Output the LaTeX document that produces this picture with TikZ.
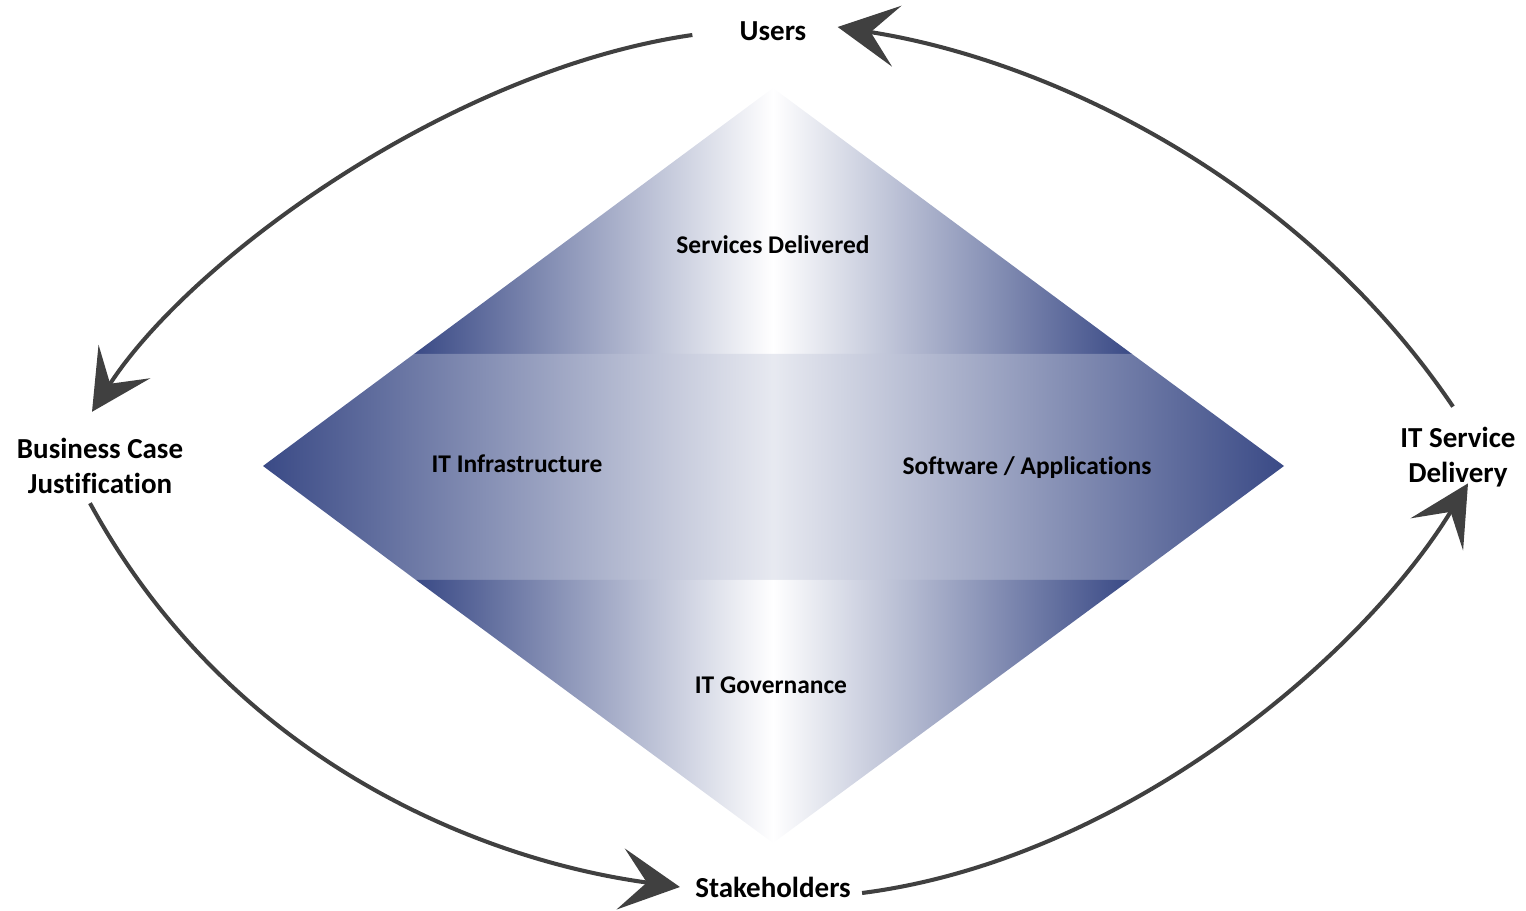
\documentclass[tikz,border=0pt]{standalone}
\usepackage{fontspec}
\setmainfont{Carlito}[Ligatures=NoCommon]
\usetikzlibrary{arrows.meta,calc}
\definecolor{dblue}{RGB}{58,74,134}
\definecolor{arrowgray}{RGB}{64,64,64}
\begin{document}
\begin{tikzpicture}[x=0.02cm,y=-0.02cm,
  outer/.style={font=\bfseries\fontsize{16.5}{20}\selectfont, inner sep=0pt, align=center},
  inner/.style={font=\bfseries\fontsize{14.5}{17}\selectfont, inner sep=0pt},
  flow/.style={draw=arrowgray, line width=2.3pt, -{Stealth[length=34pt,width=35pt,inset=15pt]}},
  tri/.style={left color=dblue, right color=dblue, middle color=white},
  band/.style={left color=dblue, right color=dblue, middle color=dblue!12}]
\useasboundingbox (0,0) rectangle (1526,911);
\path[tri] (773,88) -- (1132,354) -- (414,354) -- cycle;
\path[band] (414,354) -- (1132,354) -- (1284,466) -- (1130,580) -- (416,580) -- (263,466) -- cycle;
\path[tri] (416,580) -- (1130,580) -- (773,843) -- cycle;
\node[inner] (sd) at (773,245) {Services Delivered};
\node[inner] (iti) at (517,464) {IT Infrastructure};
\node[inner] (sa) at (1027,468) {Software / Applications};
\node[inner] (itg) at (771,685) {IT Governance};
\node[outer] (users) at (773,31) {Users};
\node[outer] (bcj) at (100,466) {Business Case\\Justification};
\node[outer] (stk) at (773,887) {Stakeholders};
\node[outer] (itsd) at (1458,457) {IT Service\\Delivery};
\draw[flow] ($(users.west)+(-47,4)$) .. controls (450,70) and (190,260) .. ($(bcj.north)+(-8,-26)$);
\draw[flow] ($(bcj.south)+(-10,9)$) .. controls (230,760) and (480,860) .. ($(stk.west)+(-15,0)$);
\draw[flow] ($(stk.east)+(11,6)$) .. controls (1120,860) and (1360,660) .. ($(itsd.south)+(10,-4)$);
\draw[flow] ($(itsd.north)+(-5,-20)$) .. controls (1300,180) and (1050,60) .. ($(users.east)+(31,-4)$);
\end{tikzpicture}
\end{document}
